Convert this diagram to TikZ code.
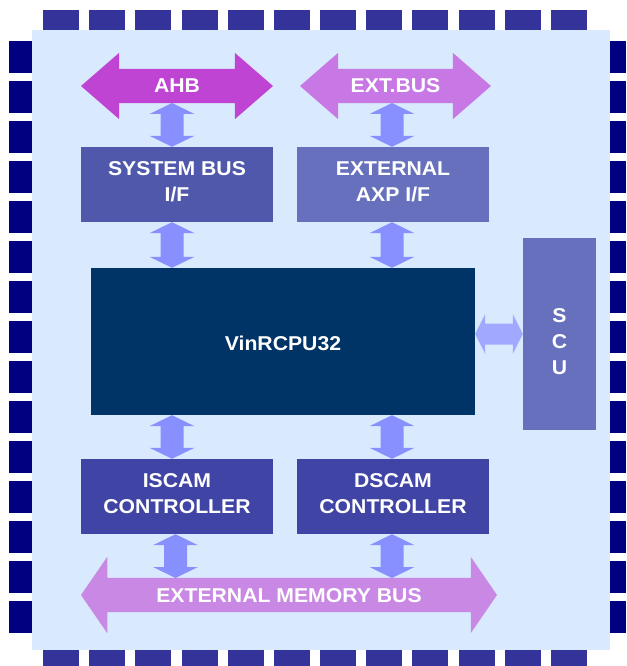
\documentclass[tikz,border=0pt]{standalone}
\usepackage{fontspec}
\setmainfont{Liberation Sans}[FakeStretch=1.06]
\usepackage{tikz}
\usetikzlibrary{calc,shapes.arrows}

\definecolor{bgblue}{RGB}{217,234,254}
\definecolor{pintop}{RGB}{51,51,153}
\definecolor{pinside}{RGB}{0,0,128}
\definecolor{ahbpink}{RGB}{192,68,212}
\definecolor{extpink}{RGB}{200,120,228}
\definecolor{mempink}{RGB}{200,136,228}
\definecolor{sysblue}{RGB}{80,88,172}
\definecolor{axpblue}{RGB}{102,112,188}
\definecolor{ctlblue}{RGB}{64,68,164}
\definecolor{cpublue}{RGB}{0,51,102}
\definecolor{linkblue}{RGB}{136,144,255}
\definecolor{scublue}{RGB}{160,168,255}

\newcommand{\lbl}{\fontsize{20}{26}\selectfont\bfseries}
\newcommand{\vlink}[3]{%
  \fill[linkblue] let \p1=(#1), \p2=(#2) in
    ({\x2+(#3pt)},\y1) -- ++(22.5pt,-11pt) -- ++(-11pt,0pt) -- ({\x2+(#3pt)+11.5pt},{\y2+11pt}) -- ++(11pt,0pt)
    -- ({\x2+(#3pt)},\y2) -- ++(-22.5pt,11pt) -- ++(11pt,0pt) -- ({\x2+(#3pt)-11.5pt},{\y1-11pt}) -- ++(-11pt,0pt) -- cycle;}

\begin{document}
\begin{tikzpicture}[x=1pt,y=-1pt,
  box/.style={rectangle,minimum width=192pt,minimum height=75pt,inner sep=0pt,text=white,align=center,font=\lbl,
    text height=34pt,text depth=0pt},
  bus/.style={double arrow,double arrow tip angle=82,double arrow head extend=16pt,text height=14pt,text depth=0pt,
    inner xsep=0pt,inner ysep=10pt,text=white,font=\lbl}]
\useasboundingbox (0,0) rectangle (626,666);
\foreach \i in {0,...,11} {
  \fill[pintop] ({43+46.18*\i},10) rectangle ++(36,20);
  \fill[pintop] ({43+46.18*\i},650) rectangle ++(36,16);
}
\foreach \i in {0,...,14} {
  \fill[pinside] (9,{41+40*\i}) rectangle ++(23,32);
  \fill[pinside] (610,{41+40*\i}) rectangle ++(16,32);
}
\fill[bgblue] (32,30) rectangle (610,650);

\node[bus,fill=ahbpink,minimum height=192pt] (ahb) at (177,86) {AHB};
\node[bus,fill=extpink,minimum height=191pt] (extbus) at (395.5,86) {EXT.BUS};
\node[bus,fill=mempink,minimum height=416pt,double arrow tip angle=111,double arrow head extend=21pt] (membus) at (289,595) {EXTERNAL MEMORY BUS};
\coordinate (ahbbot) at ([yshift=-17pt]ahb.center);
\coordinate (extbot) at ([yshift=-17pt]extbus.center);
\coordinate (memtop) at ([yshift=17pt]membus.center);

\node[box,fill=sysblue] (sysbus) at (177,184.5) {SYSTEM BUS\\I/F};
\node[box,fill=axpblue] (axpif) at (393,184.5) {EXTERNAL\\AXP I/F};
\node[box,fill=cpublue,minimum width=384pt,minimum height=147pt,text height=18pt] (cpu) at (283,341.5) {VinRCPU32};
\node[box,fill=axpblue,minimum width=73pt,minimum height=192pt,text height=80pt] (scu) at (559.5,334) {S\\C\\U};
\node[box,fill=ctlblue] (iscam) at (177,496.5) {ISCAM\\CONTROLLER};
\node[box,fill=ctlblue] (dscam) at (393,496.5) {DSCAM\\CONTROLLER};

\vlink{ahbbot}{sysbus.north}{-5}
\vlink{extbot}{axpif.north}{-1}
\vlink{sysbus.south}{sysbus.south |- cpu.north}{-5}
\vlink{axpif.south}{axpif.south |- cpu.north}{-1}
\vlink{cpu.south -| iscam.north}{iscam.north}{-5}
\vlink{cpu.south -| dscam.north}{dscam.north}{-1}
\vlink{iscam.south}{iscam.south |- memtop}{-1.5}
\vlink{dscam.south}{dscam.south |- memtop}{-1}
\fill[scublue] let \p1=(cpu.east), \p2=(scu.west) in
  (\x1,\y2) -- ++(10pt,20pt) -- ++(0pt,-9.5pt) -- ({\x2-10pt},{\y2+10.5pt}) -- ++(0pt,9.5pt)
  -- (\x2,\y2) -- ++(-10pt,-20pt) -- ++(0pt,9.5pt) -- ({\x1+10pt},{\y2-10.5pt}) -- ++(0pt,-9.5pt) -- cycle;
\end{tikzpicture}
\end{document}
